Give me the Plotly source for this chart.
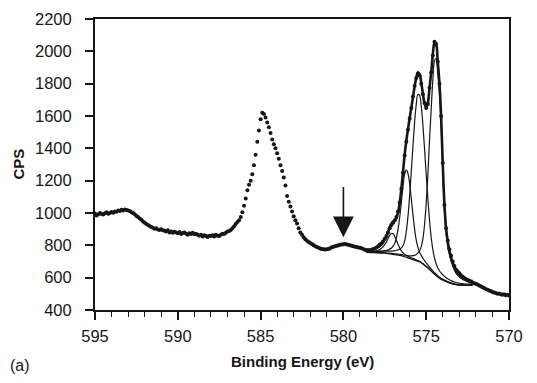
import numpy as np
import plotly.graph_objects as go

# ---- measured spectrum (counts per second), binding energy 595.0 -> 570.0 eV, step 0.1 eV
cps = [
    997, 985, 992, 1000, 994, 990, 998, 1004, 996, 1000,          # 595.0-594.1
    1006, 1002, 1010, 1008, 1015, 1012, 1020, 1016, 1022, 1018,   # 594.0-593.1
    1015, 1012, 1005, 1000, 992, 982, 975, 966, 958, 948,         # 593.0-592.1
    940, 932, 925, 920, 914, 908, 903, 906, 898, 895,             # 592.0-591.1
    900, 893, 890, 885, 894, 880, 886, 878, 884, 880,             # 591.0-590.1
    875, 883, 870, 876, 880, 872, 866, 874, 870, 878,             # 590.0-589.1
    868, 872, 865, 860, 866, 855, 862, 858, 852, 860,             # 589.0-588.1
    857, 862, 855, 865, 860, 858, 866, 872, 870, 878,             # 588.0-587.1
    885, 888, 895, 905, 918, 932, 945, 955, 975, 1005,            # 587.0-586.1
    1045, 1090, 1140, 1175, 1200, 1240, 1295, 1360, 1440, 1510,   # 586.0-585.1
    1580, 1620, 1612, 1590, 1560, 1530, 1495, 1455, 1425, 1400,   # 585.0-584.1
    1370, 1335, 1295, 1260, 1220, 1170, 1105, 1070, 1040, 1010,   # 584.0-583.1
    980, 955, 935, 905, 880, 865, 850, 838, 828, 820,             # 583.0-582.1
    815, 808, 800, 795, 790, 785, 780, 778, 776, 774,             # 582.0-581.1
    775, 778, 782, 788, 792, 795, 798, 800, 803, 805,             # 581.0-580.1
    806, 808, 805, 803, 800, 798, 795, 792, 790, 787,             # 580.0-579.1
    785, 782, 778, 772,                                           # 579.0-578.7
    770, 768, 764, 770, 775, 780, 786, 795, 805, 812,             # 578.6-577.7
    826, 840, 858, 880, 905, 925, 940, 955, 975, 1010,            # 577.6-576.7
    1065, 1150, 1250, 1355, 1440, 1515, 1585, 1650, 1720, 1785,   # 576.6-575.7
    1835, 1860, 1850, 1800, 1735, 1680, 1650, 1675, 1775, 1870,   # 575.6-574.7
    1975, 2060, 2045, 1935, 1800, 1600, 1310, 1050, 905, 830,     # 574.6-573.7
    775, 735, 700, 672, 650, 638, 628, 615, 605, 598,             # 573.6-572.7
    590, 585, 580, 575, 570,                                      # 572.6-572.2
    566, 562, 558, 552, 547, 540, 536, 530, 526, 521,             # 572.1-571.2
    518, 512, 508, 505, 500, 502, 497, 495, 498, 492,             # 571.1-570.2
    494, 490,                                                     # 570.1-570.0
]

# ---- curve fit, binding energy 578.6 -> 572.2 eV, step 0.1 eV
background = [
    756, 756, 755, 755, 755, 754, 754, 753, 753, 752,
    752, 751, 750, 749, 748, 746, 745, 743, 742, 740,
    738, 736, 733, 730, 727, 724, 721, 718, 715, 711,
    707, 703, 698, 692, 685, 677, 669, 660, 650, 640,
    630, 620, 611, 603, 596, 590, 585, 580, 575, 571,
    567, 564, 561, 558, 556, 555, 554, 553, 553, 552,
    552, 552, 552, 552, 552,
]
peak_a = [
    3, 3, 4, 5, 7, 9, 12, 16, 22, 30,
    40, 55, 70, 95, 114, 127, 127, 112, 90, 66,
    45, 30, 20, 14, 10, 8, 6, 5, 4, 4,
    3, 3, 3, 2, 2, 2, 2, 2, 2, 2,
    2, 2, 2, 2, 2, 2, 2, 1, 1, 1,
    1, 1, 1, 1, 1, 1, 1, 1, 1, 1,
    1, 1, 1, 1, 1,
]
peak_b = [
    5, 6, 6, 7, 7, 8, 9, 10, 11, 12,
    14, 16, 19, 23, 29, 37, 50, 70, 105, 160,
    235, 330, 430, 510, 540, 520, 460, 370, 275, 190,
    125, 85, 60, 45, 35, 28, 23, 19, 16, 14,
    12, 11, 10, 9, 8, 7, 6, 6, 5, 5,
    5, 4, 4, 4, 4, 3, 3, 3, 3, 3,
    2, 2, 2, 2, 2,
]
peak_c = [
    7, 7, 7, 8, 8, 9, 9, 10, 10, 11,
    12, 13, 14, 15, 16, 18, 20, 23, 27, 32,
    38, 48, 65, 98, 160, 255, 385, 540, 700, 850,
    965, 1030, 1030, 970, 860, 720, 570, 430, 305, 210,
    145, 102, 75, 58, 47, 39, 33, 28, 25, 22,
    20, 18, 16, 15, 14, 13, 12, 11, 10, 9,
    9, 8, 8, 7, 7,
]
peak_d = [
    2, 2, 2, 2, 2, 2, 2, 2, 2, 3,
    3, 3, 3, 3, 4, 4, 4, 5, 5, 6,
    6, 7, 8, 9, 10, 12, 14, 17, 21, 27,
    36, 50, 68, 100, 155, 250, 390, 570, 800, 1000,
    1190, 1320, 1345, 1260, 1150, 960, 680, 440, 300, 225,
    175, 140, 112, 90, 72, 60, 50, 43, 37, 32,
    28, 25, 22, 19, 17,
]

x_ticks = [595, 590, 585, 580, 575, 570]
y_ticks = [400, 600, 800, 1000, 1200, 1400, 1600, 1800, 2000, 2200]

be = np.round(595.0 - 0.1 * np.arange(len(cps)), 1)
fit_be = np.round(578.6 - 0.1 * np.arange(len(background)), 1)
bg = np.array(background, dtype=float)
comps = [np.array(c, dtype=float) for c in (peak_a, peak_b, peak_c, peak_d)]
envelope = bg + sum(comps)

INK = "#161616"
FONT = "Liberation Sans, Arial, Helvetica, sans-serif"

fig = go.Figure()

fig.add_trace(go.Scatter(x=fit_be, y=bg, mode="lines",
                         line=dict(color=INK, width=1.2), hoverinfo="skip"))
for c in comps:
    fig.add_trace(go.Scatter(x=fit_be, y=bg + c, mode="lines",
                             line=dict(color=INK, width=1.2, shape="spline"),
                             hoverinfo="skip"))
fig.add_trace(go.Scatter(x=fit_be, y=envelope, mode="lines",
                         line=dict(color=INK, width=2.6, shape="spline"),
                         hoverinfo="skip"))
fig.add_trace(go.Scatter(x=be, y=cps, mode="markers",
                         marker=dict(color=INK, size=4), hoverinfo="skip"))

fig.add_annotation(x=580, y=850, ax=580, ay=1170, xref="x", yref="y",
                   axref="x", ayref="y", showarrow=True, arrowhead=2,
                   arrowwidth=1.6, arrowsize=2.6, arrowcolor=INK, text="")

fig.add_annotation(text="<b>Binding Energy (eV)</b>", x=0.5, y=0, xref="paper",
                   yref="paper", xanchor="center", yanchor="middle",
                   yshift=-51, showarrow=False,
                   font=dict(family=FONT, size=15, color=INK))
fig.add_annotation(text="<b>CPS</b>", x=0, y=0.5, xref="paper", yref="paper",
                   xanchor="center", yanchor="middle", xshift=-77,
                   textangle=-90, showarrow=False,
                   font=dict(family=FONT, size=15, color=INK))
fig.add_annotation(text="(a)", x=0, y=0, xref="paper", yref="paper",
                   xanchor="center", yanchor="middle", xshift=-75, yshift=-55,
                   showarrow=False, font=dict(family=FONT, size=16, color=INK))

fig.update_xaxes(range=[595, 570], tickmode="array", tickvals=x_ticks,
                 ticktext=[str(v) for v in x_ticks],
                 ticks="outside", ticklen=8, tickwidth=1.6, tickcolor=INK,
                 ticklabelstandoff=2,
                 minor=dict(dtick=1, tick0=570, ticks="outside", ticklen=5,
                            tickwidth=1.3, tickcolor=INK),
                 showline=True, linewidth=2, linecolor=INK, mirror=True,
                 showgrid=False, zeroline=False, automargin=False,
                 tickfont=dict(family=FONT, size=16.5, color=INK))
fig.update_yaxes(range=[400, 2200], tickmode="array", tickvals=y_ticks,
                 ticktext=[str(v) for v in y_ticks],
                 ticks="outside", ticklen=8, tickwidth=1.6, tickcolor=INK,
                 ticklabelstandoff=10,
                 showline=True, linewidth=2, linecolor=INK, mirror=True,
                 showgrid=False, zeroline=False, automargin=False,
                 tickfont=dict(family=FONT, size=16.5, color=INK))

# page body adds an 8 px offset, so the figure is sized to fit inside the window
fig.update_layout(width=529, height=375, showlegend=False,
                  margin=dict(l=87, r=28, t=11, b=73),
                  paper_bgcolor="white", plot_bgcolor="white")

fig.write_html("out.html")
